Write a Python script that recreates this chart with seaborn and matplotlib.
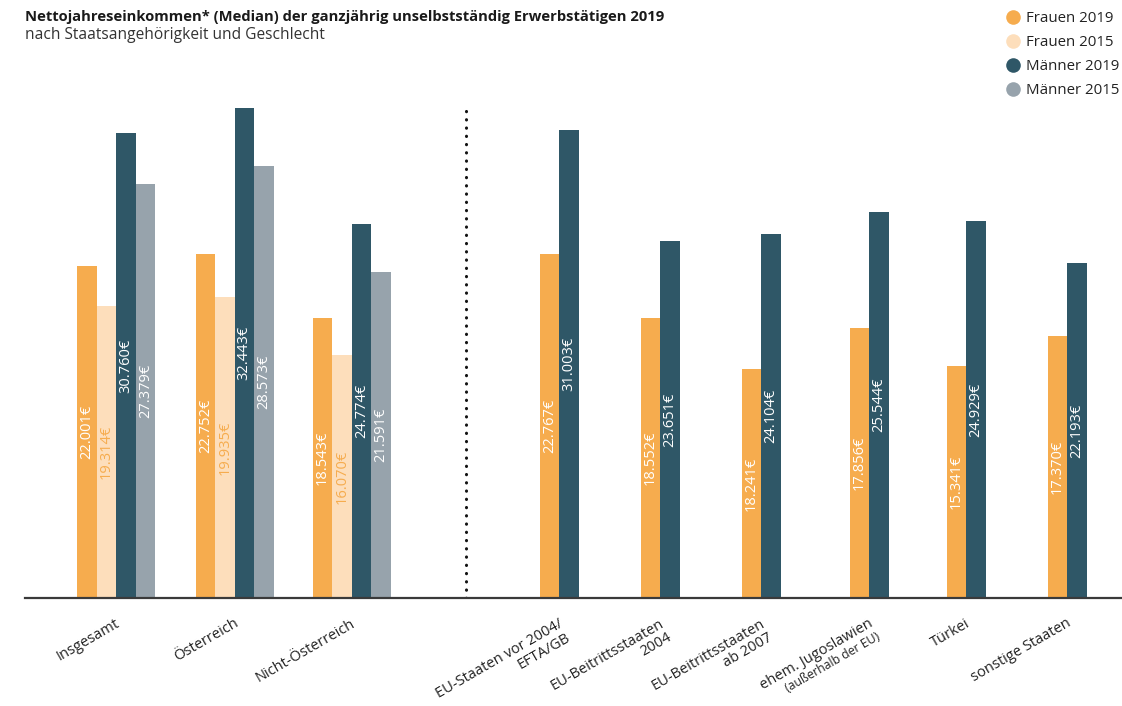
import matplotlib
matplotlib.use("Agg")
import matplotlib.pyplot as plt
import seaborn as sns
import pandas as pd
from matplotlib.lines import Line2D
from matplotlib.transforms import ScaledTranslation

# ---------------- data ----------------
series_names = ["Frauen 2019", "Frauen 2015", "Männer 2019", "Männer 2015"]

categories_left = ["Insgesamt", "Österreich", "Nicht-Österreich"]
frauen2019_left = [22001, 22752, 18543]
frauen2015_left = [19314, 19935, 16070]
maenner2019_left = [30760, 32443, 24774]
maenner2015_left = [27379, 28573, 21591]

categories_right = ["EU-Staaten vor 2004/\nEFTA/GB", "EU-Beitrittsstaaten\n2004",
                    "EU-Beitrittsstaaten\nab 2007", "ehem. Jugoslawien\n(außerhalb der EU)",
                    "Türkei", "sonstige Staaten"]
# bar heights as drawn in the reference
frauen2019_right = [22767, 18552, 15160, 17856, 15341, 17370]
maenner2019_right = [31003, 23651, 24104, 25544, 24929, 22193]
# printed value labels
frauen2019_right_labels = ["22.767€", "18.552€", "18.241€", "17.856€", "15.341€", "17.370€"]

# ---------------- layout ----------------
W, H = 1122, 706
centers_left = [116, 234.5, 351.5]
centers_right = [559, 660, 761, 869, 966, 1067]
bw = 19.5

colors = {"Frauen 2019": "#F6AC4E", "Frauen 2015": "#FDDEBB",
          "Männer 2019": "#2F5767", "Männer 2015": "#97A3AC"}
text_colors = {"Frauen 2019": "white", "Frauen 2015": "#F6AC4E",
               "Männer 2019": "white", "Männer 2015": "white"}

def fmt(v):
    return f"{v:,}".replace(",", ".") + "€"

rows = []
left_vals = [frauen2019_left, frauen2015_left, maenner2019_left, maenner2015_left]
offs4 = [-1.5 * bw, -0.5 * bw, 0.5 * bw, 1.5 * bw]
for gi, c in enumerate(centers_left):
    for si, s in enumerate(series_names):
        v = left_vals[si][gi]
        rows.append(dict(pos=c + offs4[si], value=v, series=s, label=fmt(v)))
offs2 = [-0.5 * bw, 0.5 * bw]
for gi, c in enumerate(centers_right):
    rows.append(dict(pos=c + offs2[0], value=frauen2019_right[gi], series="Frauen 2019",
                     label=frauen2019_right_labels[gi]))
    rows.append(dict(pos=c + offs2[1], value=maenner2019_right[gi], series="Männer 2019",
                     label=fmt(maenner2019_right[gi])))
df = pd.DataFrame(rows)

sns.set_theme(style="white")
plt.rcParams["font.family"] = ["Open Sans", "DejaVu Sans"]

fig = plt.figure(figsize=(W / 100, H / 100), dpi=100)
ax = fig.add_axes([25 / W, 1 - 598 / H, 1 - 25 / W, (598 - 90) / H])

sns.barplot(data=df, x="pos", y="value", hue="series", hue_order=series_names,
            palette=colors, native_scale=True, dodge=False, width=1.0,
            saturation=1, linewidth=0, legend=False, ax=ax)

ymax = (598 - 90) * 66.2
ax.set_xlim(25, W)
ax.set_ylim(0, ymax)

for _, r in df.iterrows():
    ax.text(r["pos"], r["value"] / 2, r["label"], rotation=90, ha="center", va="center",
            color=text_colors[r["series"]], fontsize=10.5)

# separator
ax.plot([466, 466], [0, (598 - 106) * 66.2], color="#111111", lw=2.2,
        linestyle=(0, (0.1, 2.6)), dash_capstyle="round", solid_capstyle="round")

# axes styling
for sp in ["left", "top", "right"]:
    ax.spines[sp].set_visible(False)
ax.spines["bottom"].set_color("#3a3a3a")
ax.spines["bottom"].set_linewidth(1.6)
ax.set_yticks([])
ax.set_xlabel("")
ax.set_ylabel("")

# x tick labels: first line as tick label, further lines as separate texts
all_cats = categories_left + categories_right
ticks = centers_left + centers_right
first_lines = [c.split("\n")[0] for c in all_cats]
ax.set_xticks(ticks)
ax.set_xticklabels(first_lines, rotation=30, ha="right", va="top",
                   rotation_mode="anchor", fontsize=10.5, color="#222222")
ax.tick_params(axis="x", length=0, pad=13)
shift = ScaledTranslation(-1 / 100, 0, fig.dpi_scale_trans)
for lbl in ax.get_xticklabels():
    lbl.set_transform(lbl.get_transform() + shift)

line_off = ScaledTranslation(8 / 100, -14 / 100, fig.dpi_scale_trans)
for lbl, cat in zip(ax.get_xticklabels(), all_cats):
    parts = cat.split("\n")
    if len(parts) > 1:
        small = parts[1].startswith("(")
        t2 = ax.text(0, 0, parts[1], rotation=30, ha="right", va="top",
                     rotation_mode="anchor", fontsize=8.8 if small else 10.5,
                     color="#222222", transform=lbl.get_transform() + line_off)
        t2.set_position(lbl.get_position())

# title
fig.text(25 / W, 1 - 21 / H, "Nettojahreseinkommen* (Median) der ganzjährig unselbstständig Erwerbstätigen 2019",
         fontsize=10.6, fontweight="bold", color="#1a1a1a", va="baseline")
fig.text(25 / W, 1 - 39 / H, "nach Staatsangehörigkeit und Geschlecht",
         fontsize=11.2, color="#333333", va="baseline")

# legend
handles = [Line2D([0], [0], marker="o", linestyle="", markersize=10.5,
                  markerfacecolor=colors[s], markeredgewidth=0) for s in series_names]
fig.legend(handles, series_names, loc="upper left", bbox_to_anchor=(998 / W, 1 - 5 / H),
           frameon=False, fontsize=10.8, handletextpad=0.3, labelspacing=0.6,
           borderaxespad=0, handlelength=1.2, labelcolor="#222222")

fig.savefig("out.png", dpi=100)
